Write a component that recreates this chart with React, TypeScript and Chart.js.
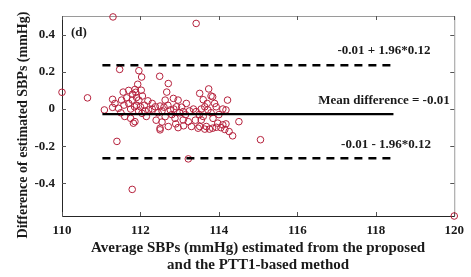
import React, { useEffect, useRef } from "react";
import { Chart, registerables } from "chart.js";

Chart.register(...registerables);

// Average SBP (x) and difference (y) for each subject
const avgSBP = [
  110.0, 110.65, 111.3, 113.42, 111.47, 111.96, 112.03, 112.49, 112.71, 111.93,
  111.4, 111.79, 113.22, 115.06, 120.0, 114.35, 114.26, 112.67, 111.56, 111.86,
  112.02, 113.51, 113.74, 113.84, 114.22, 111.29, 111.52, 111.08, 111.29, 111.44,
  111.58, 111.79, 111.9, 111.96, 111.85, 112.0, 112.19, 112.04, 112.21, 112.38,
  112.5, 112.63, 112.84, 112.96, 113.17, 112.92, 112.76, 113.09, 113.42, 113.64,
  113.72, 113.89, 113.93, 114.18, 111.75, 111.82, 112.5, 112.71, 112.96, 113.22,
  112.63, 112.88, 113.55, 113.68, 113.84, 113.97, 114.1, 114.51, 113.47, 113.3,
  113.09, 111.86, 112.5, 113.51, 113.64, 113.76, 113.93, 114.18,
  111.65, 111.7, 111.75, 111.9, 111.95, 112.1, 112.05, 111.8, 111.7, 111.88,
  112.12, 112.3, 112.45, 112.55, 112.6, 112.7, 112.8, 112.85, 113.0, 113.05,
  113.15, 113.25, 113.35, 113.5, 113.55, 113.6, 113.8, 113.85, 114.0, 114.05,
  114.15, 112.4, 112.55, 112.9, 113.1, 113.4, 112.3, 112.15, 111.35, 111.5,
  111.6, 113.7, 113.8, 113.6, 114.1,
];
const diffSBP = [
  0.09, 0.06, 0.495, 0.46, 0.213, 0.206, 0.172, 0.176, 0.137, 0.133,
  -0.174, -0.432, -0.268, -0.165, -0.575, -0.144, -0.121, 0.091, 0.091, 0.105,
  0.101, 0.084, 0.108, 0.066, 0.048, 0.052, 0.048, -0.005, 0.009, 0.004,
  0.021, 0.048, 0.062, 0.048, 0.012, 0.012, 0.044, -0.023, -0.005, 0.012,
  0.016, 0.048, 0.057, 0.048, 0.03, 0.012, -0.005, -0.014, -0.014, 0.012,
  -0.005, 0.03, 0.012, -0.005, -0.05, -0.076, -0.103, -0.094, -0.1, -0.068,
  -0.041, -0.05, -0.059, -0.094, -0.103, -0.076, -0.085, -0.068, -0.103, -0.094,
  -0.059, -0.068, -0.112, -0.094, -0.108, -0.108, -0.098, -0.08,
  0.06, 0.03, 0.0, 0.02, -0.01, 0.02, 0.07, 0.08, 0.1, 0.09,
  -0.01, 0.0, -0.02, -0.01, 0.01, 0.02, -0.03, 0.0, -0.02, 0.01,
  -0.03, -0.01, 0.0, -0.03, 0.0, -0.04, -0.02, -0.05, -0.03, -0.1,
  -0.11, -0.06, -0.07, -0.08, -0.09, -0.06, 0.03, -0.04, 0.03, -0.02,
  -0.04, 0.03, 0.07, 0.05, 0.0,
];

// Reference lines
const lineX = [111.03, 118.45];
const upperLimit = 0.235;
const meanDiff = -0.027;
const lowerLimit = -0.265;

// Axes
const xRange = [110, 120];
const yRange = [-0.575, 0.5];
const xTicks = [110, 112, 114, 116, 118, 120];
const yTicks = [-0.4, -0.2, 0, 0.2, 0.4];

const xTitle = ["Average SBPs (mmHg) estimated from the proposed", "and the PTT1-based method"];
const yTitle = "Difference of estimated SBPs (mmHg)";
const panelLabel = "(d)";
const upperLabel = "-0.01 + 1.96*0.12";
const meanLabel = "Mean difference = -0.01";
const lowerLabel = "-0.01 - 1.96*0.12";

const FONT = "'Liberation Serif', 'Times New Roman', serif";
const TEXT = "#1a1a1a";

const overlay = {
  id: "overlay",
  beforeDatasetsDraw(chart: any) {
    const { ctx, chartArea: a, scales } = chart;
    ctx.save();
    // top & right (light)
    ctx.strokeStyle = "#9a9a9a";
    ctx.lineWidth = 1;
    ctx.beginPath();
    ctx.moveTo(a.left, a.top + 0.5);
    ctx.lineTo(a.right + 0.5, a.top + 0.5);
    ctx.lineTo(a.right + 0.5, a.bottom);
    ctx.stroke();
    // left & bottom (dark)
    ctx.strokeStyle = "#262626";
    ctx.beginPath();
    ctx.moveTo(a.left + 0.5, a.top);
    ctx.lineTo(a.left + 0.5, a.bottom + 0.5);
    ctx.lineTo(a.right + 0.5, a.bottom + 0.5);
    ctx.stroke();
    // ticks
    const tl = 4;
    ctx.strokeStyle = "#555";
    ctx.beginPath();
    xTicks.forEach((v) => {
      const px = Math.round(scales.x.getPixelForValue(v)) + 0.5;
      ctx.moveTo(px, a.bottom);
      ctx.lineTo(px, a.bottom - tl);
      ctx.moveTo(px, a.top);
      ctx.lineTo(px, a.top + tl);
    });
    yTicks.forEach((v) => {
      const py = Math.round(scales.y.getPixelForValue(v)) + 0.5;
      ctx.moveTo(a.left, py);
      ctx.lineTo(a.left + tl, py);
      ctx.moveTo(a.right, py);
      ctx.lineTo(a.right - tl, py);
    });
    ctx.stroke();
    ctx.restore();
  },
  afterDraw(chart: any) {
    const { ctx, chartArea: a } = chart;
    ctx.save();
    ctx.fillStyle = TEXT;
    ctx.textBaseline = "middle";
    // axis titles
    ctx.font = `bold 15px ${FONT}`;
    ctx.textAlign = "center";
    const cx = (a.left + a.right) / 2;
    ctx.fillText(xTitle[0], cx, 248);
    ctx.fillText(xTitle[1], cx, 265);
    ctx.font = `bold 14px ${FONT}`;
    ctx.save();
    ctx.translate(23, 125);
    ctx.rotate(-Math.PI / 2);
    ctx.fillText(yTitle, 0, 0);
    ctx.restore();
    // annotations
    ctx.font = `bold 13px ${FONT}`;
    ctx.textAlign = "left";
    ctx.fillText(panelLabel, 71, 33);
    ctx.textAlign = "center";
    ctx.fillText(upperLabel, 384, 51);
    ctx.fillText(meanLabel, 384, 101);
    ctx.fillText(lowerLabel, 386, 145);
    ctx.restore();
  },
};

export default function App() {
  const ref = useRef<HTMLCanvasElement | null>(null);
  useEffect(() => {
    if (!ref.current) return;
    const points = avgSBP.map((x, i) => ({ x, y: diffSBP[i] }));
    const mk = (y: number) => lineX.map((x) => ({ x, y }));
    const chart = new Chart(ref.current, {
      type: "scatter",
      data: {
        datasets: [
          {
            label: "upper",
            type: "line",
            data: mk(upperLimit),
            borderColor: "#000",
            borderWidth: 2.5,
            borderDash: [8, 6],
            pointRadius: 0,
            order: 0,
          } as any,
          {
            label: "mean",
            type: "line",
            data: mk(meanDiff),
            borderColor: "#000",
            borderWidth: 2.2,
            pointRadius: 0,
            order: 0,
          } as any,
          {
            label: "lower",
            type: "line",
            data: mk(lowerLimit),
            borderColor: "#000",
            borderWidth: 2.5,
            borderDash: [8, 6],
            pointRadius: 0,
            order: 0,
          } as any,
          {
            label: "diff",
            data: points,
            pointRadius: 3.3,
            pointBorderWidth: 1,
            pointBorderColor: "#b5213c",
            pointBackgroundColor: "rgba(0,0,0,0)",
            clip: false as any,
            order: 1,
          },
        ],
      },
      options: {
        animation: false,
        responsive: true,
        maintainAspectRatio: false,
        layout: { padding: { left: 0, right: 11, top: 16, bottom: 0 } },
        plugins: { legend: { display: false }, tooltip: { enabled: false } },
        scales: {
          x: {
            type: "linear",
            min: xRange[0],
            max: xRange[1],
            grid: { display: false, drawTicks: false },
            border: { display: false },
            afterBuildTicks: (s: any) => {
              s.ticks = xTicks.map((value) => ({ value }));
            },
            afterFit: (s: any) => {
              s.height = 61;
            },
            ticks: {
              padding: 7,
              color: TEXT,
              font: { family: FONT, size: 13, weight: "bold" },
              maxRotation: 0,
              callback: (v: any) => String(v),
            },
          },
          y: {
            type: "linear",
            min: yRange[0],
            max: yRange[1],
            grid: { display: false, drawTicks: false },
            border: { display: false },
            afterBuildTicks: (s: any) => {
              s.ticks = yTicks.map((value) => ({ value }));
            },
            afterFit: (s: any) => {
              s.width = 62;
            },
            ticks: {
              padding: 7,
              color: TEXT,
              font: { family: FONT, size: 13, weight: "bold" },
              callback: (v: any) => (Math.abs(v) < 1e-9 ? "0" : Number(v).toFixed(1)),
            },
          },
        },
      },
      plugins: [overlay],
    });
    return () => chart.destroy();
  }, []);
  return (
    <div style={{ position: "fixed", left: 0, top: 0, width: 471, height: 277, background: "#fff" }}>
      <canvas ref={ref} />
    </div>
  );
}
